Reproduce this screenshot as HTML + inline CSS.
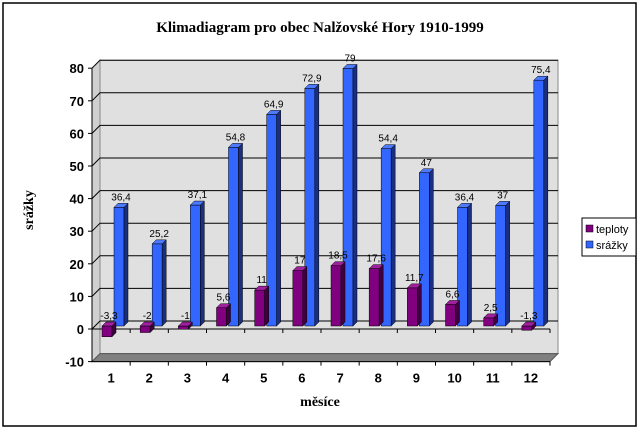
<!DOCTYPE html>
<html><head><meta charset="utf-8"><style>
body{margin:0;background:#fff;}
svg{display:block;font-family:"Liberation Sans",Arial,sans-serif;}
</style></head><body>
<svg id="c" width="643" height="431">
<rect x="3" y="3" width="633" height="423" fill="#fff" stroke="#000" stroke-width="1.5"/>
<text x="320" y="32" text-anchor="middle" font-family="Liberation Serif,serif" font-weight="bold" font-size="15">Klimadiagram pro obec Nalžovské Hory 1910-1999</text>
<text transform="translate(33,210) rotate(-90)" text-anchor="middle" font-family="Liberation Serif,serif" font-weight="bold" font-size="14">srážky</text>
<text x="320" y="406" text-anchor="middle" font-family="Liberation Serif,serif" font-weight="bold" font-size="14">měsíce</text>
<g id="plot"></g>
<g>
<rect x="582" y="218" width="54" height="38" fill="#fff" stroke="#000"/>
<rect x="586" y="225" width="7" height="7" fill="#800080" stroke="#000" stroke-width="0.5"/>
<text x="596" y="233" font-size="11">teploty</text>
<rect x="586" y="241" width="7" height="7" fill="#3366ff" stroke="#000" stroke-width="0.5"/>
<text x="596" y="249" font-size="11">srážky</text>
</g>
</svg>
<script>
const months=["1","2","3","4","5","6","7","8","9","10","11","12"];
const teploty=[-3.3,-2,-1,5.6,11,17,18.5,17.6,11.7,6.6,2.5,-1.3];
const srazky=[36.4,25.2,37.1,54.8,64.9,72.9,79,54.4,47,36.4,37,75.4];
const yTicks=[-10,0,10,20,30,40,50,60,70,80];
const NS="http://www.w3.org/2000/svg";
const g=document.getElementById('plot');
const X0=92,X1=550,DX=8,DY=-8;
const y=v=>329-v*3.26;
const cw=(X1-X0)/months.length;
function mk(t,a,p){const e=document.createElementNS(NS,t);for(const k in a)e.setAttribute(k,a[k]);(p||g).appendChild(e);return e;}
// back wall
let w=mk('polygon',{points:`${X0+DX},${y(80)+DY} ${X1+DX},${y(80)+DY} ${X1+DX},${y(-10)+DY} ${X0+DX},${y(-10)+DY}`,fill:'#e0e0e0',stroke:'#888'});

// side wall
let sw=mk('polygon',{points:`${X0},${y(80)} ${X0+DX},${y(80)+DY} ${X0+DX},${y(-10)+DY} ${X0},${y(-10)}`,fill:'#d0d0d0',stroke:'#888'});

// floor
let fl=mk('polygon',{points:`${X0},${y(-10)} ${X1},${y(-10)} ${X1+DX},${y(-10)+DY} ${X0+DX},${y(-10)+DY}`,fill:'#808080',stroke:'#555'});

yTicks.forEach(v=>{
 if(v>-10){let l=mk('polyline',{points:`${X0},${y(v)} ${X0+DX},${y(v)+DY} ${X1+DX},${y(v)+DY}`,fill:'none',stroke:'#000','stroke-width':1});
 }
 mk('line',{x1:X0-4,x2:X0,y1:y(v),y2:y(v),stroke:'#000'});
 let t=mk('text',{x:X0-8,y:y(v)+5,'text-anchor':'end','font-size':13,'font-weight':'bold'});t.textContent=v;
 
});
mk('line',{x1:X0,x2:X0,y1:y(80),y2:y(-10),stroke:'#000'});
mk('line',{x1:X0,x2:X1,y1:y(-10),y2:y(-10),stroke:'#000'});
mk('line',{x1:X0,x2:X1,y1:y(0),y2:y(0),stroke:'#000'});
function bar(i,v,off,front,side,top,name){
 const bx=X0+i*cw+off+3, bw=10, d=4;
 const base=y(0)-3, tv=y(v)-3;
 const t1=Math.min(base,tv),b1=Math.max(base,tv);
 let r=mk('rect',{x:bx,y:t1,width:bw,height:Math.max(b1-t1,1),fill:front,stroke:'#000','stroke-width':0.5});
 
 mk('polygon',{points:`${bx+bw},${t1} ${bx+bw+d},${t1-d} ${bx+bw+d},${b1-d} ${bx+bw},${b1}`,fill:side,stroke:'#000','stroke-width':0.5});
 mk('polygon',{points:`${bx},${t1} ${bx+d},${t1-d} ${bx+bw+d},${t1-d} ${bx+bw},${t1}`,fill:top,stroke:'#000','stroke-width':0.5});
 let lb=mk('text',{x:bx+bw/2+2,y:Math.min(t1,base)-7,'text-anchor':'middle','font-size':10});
 lb.textContent=String(v).replace('.',',');
 
}
months.forEach((m,i)=>{
 bar(i,srazky[i],19,'#3366ff','#1a2f80','#4d7aff','bar-srazky-'+m);
 bar(i,teploty[i],7,'#800080','#400040','#a020a0','bar-teploty-'+m);
 mk('line',{x1:X0+(i+1)*cw,x2:X0+(i+1)*cw,y1:y(-10),y2:y(-10)+4,stroke:'#000'});
 mk('line',{x1:X0+(i+1)*cw,x2:X0+(i+1)*cw,y1:y(0),y2:y(0)+4,stroke:'#000'});
 let t=mk('text',{x:X0+(i+0.5)*cw,y:y(-10)+21,'text-anchor':'middle','font-size':13,'font-weight':'bold'});t.textContent=m;
 
});
</script>
</body></html>
